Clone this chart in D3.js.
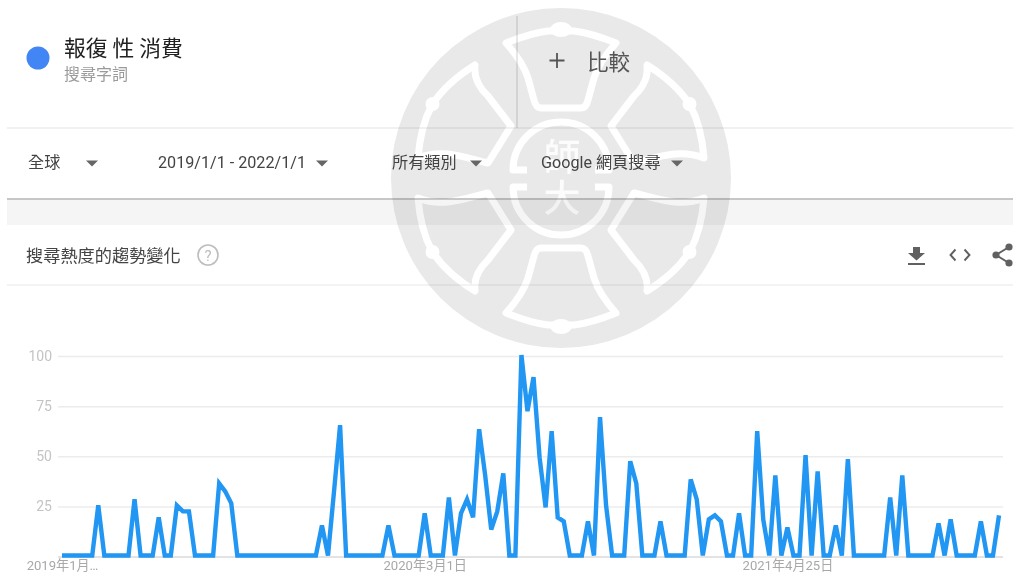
<!DOCTYPE html>
<html><head><meta charset="utf-8">
<script src="https://cdn.jsdelivr.net/npm/d3@7/dist/d3.min.js"></script>
<style>
html,body{margin:0;padding:0;background:#fff;overflow:hidden}
svg{display:block;filter:blur(0.5px)}
text{font-family:Roboto,"Noto Sans CJK TC",sans-serif}
</style></head><body>
<svg id="c" width="1013" height="574"></svg>
<script>
const startDate = "2019-01-06";
const weeklyValues = [
0,0,0,0,0,0,25,0,0,0,
0,0,28,0,0,0,19,0,0,25,
22,22,0,0,0,0,36,32,26,0,
0,0,0,0,0,0,0,0,0,0,
0,0,0,15,0,32,65,0,0,0,
0,0,0,0,15,0,0,0,0,0,
21,0,0,0,29,0,21,28,19,63,
40,13,22,41,0,0,100,72,89,49,
24,62,19,17,0,0,0,17,0,69,
25,0,0,0,47,36,0,0,0,17,
0,0,0,0,38,28,0,18,20,17,
0,0,21,0,0,62,18,0,40,0,
14,0,0,50,0,42,0,0,15,0,
48,0,0,0,0,0,0,29,0,40,
0,0,0,0,0,16,0,18,0,0,
0,0,17,0,0,20];
const yTicks = [25,50,75,100];
const xTickDates = ["2019-01-06","2020-03-01","2021-04-25"];
const xTickLabels = ["2019年1月…","2020年3月1日","2021年4月25日"];
const termLabel = "報復 性 消費";
const termType = "搜尋字詞";
const filterLabels = ["全球","2019/1/1 - 2022/1/1","所有類別","Google 網頁搜尋"];

const svg = d3.select("#c");
const CJK = '"Noto Sans CJK TC",Roboto,sans-serif';
const parse = d3.utcParse("%Y-%m-%d");
const t0 = parse(startDate);
const dates = weeklyValues.map((_,i)=>d3.utcWeek.offset(t0,i));
const x = d3.scaleUtc().domain([dates[0],dates[dates.length-1]]).range([62,999]);
const y = d3.scaleLinear().domain([0,100]).range([556.5,356]);

// page furniture
const hline=(yy,col,w)=>svg.append("line").attr("x1",7).attr("x2",1013).attr("y1",yy).attr("y2",yy).attr("stroke",col).attr("stroke-width",w);
svg.append("rect").attr("x",7).attr("y",200).attr("width",1006).attr("height",25).attr("fill","#f5f5f5");
hline(128,"#e3e3e3",1.2);
hline(199,"#b4b4b4",1.6);
hline(285,"#e8e8e8",1.2);
svg.append("line").attr("x1",517).attr("x2",517).attr("y1",16).attr("y2",128).attr("stroke","#cfcfcf").attr("stroke-width",1);

// watermark seal
const cx=561, cy=178;
const wm=svg.append("g").style("mix-blend-mode","multiply");
wm.append("circle").attr("cx",cx).attr("cy",cy).attr("r",170).attr("fill","#e9e9e9");
const ws=wm.append("g").attr("transform",`translate(${cx},${cy})`)
  .attr("fill","none").attr("stroke","#fff").attr("stroke-width",7).attr("stroke-linejoin","round").attr("stroke-linecap","butt");
const bell="M-55,-135 Q-30,-145 -13,-147 L13,-147 Q30,-145 55,-135 Q38,-116 33,-100 L27,-78 Q25,-70 20,-70 L-20,-70 Q-25,-70 -27,-78 L-33,-100 Q-38,-116 -55,-135 Z";
const petal="M-86,-113 Q-88,-96 -73,-82 L-50,-52 L-73,-15 C-95,-20 -118,-30 -143,-20 C-141,-45 -135,-62 -129,-73 Q-115,-95 -86,-113 Z";
[[1,1],[1,-1]].forEach(([a,b])=>{
  const g=ws.append("g").attr("transform",`scale(${a},${b})`);
  g.append("path").attr("d",bell);
  g.append("ellipse").attr("cx",0).attr("cy",-148.5).attr("rx",11).attr("ry",7.5).attr("fill","#fff").attr("stroke","none");
});
[[1,1],[-1,1],[1,-1],[-1,-1]].forEach(([a,b])=>{
  const g=ws.append("g").attr("transform",`scale(${a},${b})`);
  g.append("path").attr("d",petal);
  g.append("circle").attr("cx",-128.5).attr("cy",-74).attr("r",7).attr("fill","#fff").attr("stroke","none");
});
ws.append("path").attr("d","M-34,-8H-48A48,48 0 0 1 48,-8H34");
ws.append("path").attr("d","M-34,9H-48A48,48 0 0 0 48,9H34");
wm.append("text").attr("x",cx+1).attr("y",171).attr("text-anchor","middle").attr("fill","#fff").attr("fill-opacity",0.85).style("font-family",CJK).style("font-weight",500).style("font-size","37px").text("師");
wm.append("text").attr("x",cx+1).attr("y",212).attr("text-anchor","middle").attr("fill","#fff").attr("fill-opacity",0.85).style("font-family",CJK).style("font-weight",500).style("font-size","37px").text("大");

// header
svg.append("circle").attr("cx",38).attr("cy",58).attr("r",11.5).attr("fill","#4285f4");
const T=(s,xx,yy,size,col,fam)=>svg.append("text").attr("x",xx).attr("y",yy).attr("dominant-baseline","central").attr("fill",col).style("font-size",size+"px").style("font-family",fam||CJK).text(s);
T(termLabel,64,46,21.8,"#222");
T(termType,64,72.5,16,"#9a9a9a");
T("比較",587,60,21.5,"#555");
svg.append("path").attr("d","M557,53V68M549.5,60.5H564.5").attr("stroke","#555").attr("stroke-width",1.8);
const fx=[28,158,392,541], tri=[92,322,476,677];
filterLabels.forEach((s,i)=>{
  T(s,fx[i],162.5,16.15,"#444",i==1?'Roboto,sans-serif':'Roboto,"Noto Sans CJK TC",sans-serif');
  svg.append("path").attr("d",`M${tri[i]-6},160.5h12l-6,6z`).attr("fill","#666");
});
T("搜尋熱度的趨勢變化",26,254.5,17.2,"#444");
svg.append("circle").attr("cx",208).attr("cy",255).attr("r",10).attr("fill","none").attr("stroke","#bdbdbd").attr("stroke-width",1.6);
svg.append("text").attr("x",208).attr("y",255.5).attr("dominant-baseline","central").attr("text-anchor","middle").attr("fill","#bdbdbd").style("font-size","15px").text("?");

// action icons
svg.append("path").attr("d","M913,247h7v6h5l-8.5,7.5l-8.5,-7.5h5zM908,263h17v2H908z").attr("fill","#616161");
svg.append("path").attr("d","M955.5,249.5l-5,5.5l5,5.5M964.5,249.5l5,5.5l-5,5.5").attr("fill","none").attr("stroke","#616161").attr("stroke-width",1.9);
svg.append("path").attr("d","M1009,247L996,255L1009,263").attr("fill","none").attr("stroke","#616161").attr("stroke-width",2);
[[1009,247],[996,255],[1009,263]].forEach(d=>svg.append("circle").attr("cx",d[0]).attr("cy",d[1]).attr("r",3.6).attr("fill","#616161"));

// chart
const gy=svg.append("g").attr("transform","translate(58,0)")
  .call(d3.axisLeft(y).tickValues(yTicks).tickSize(-945).tickPadding(6));
gy.select(".domain").remove();
gy.selectAll(".tick line").attr("stroke","#ececec").attr("stroke-width",1.5);
gy.selectAll("text").attr("fill","#c4c4c4").style("font-size","14px").style("font-family","Roboto,sans-serif");

const gx=svg.append("g").attr("transform",`translate(0,${y(0)})`)
  .call(d3.axisBottom(x).tickValues(xTickDates.map(parse)).tickSize(0).tickPadding(3)
    .tickFormat((d,i)=>xTickLabels[i]));
gx.select(".domain").remove();
gx.selectAll("text").attr("fill","#a8a8a8").attr("dy","0.8em").style("font-size","13.1px").style("font-family",'Roboto,"Noto Sans CJK TC",sans-serif');
svg.append("line").attr("x1",58).attr("x2",1003).attr("y1",y(0)+.5).attr("y2",y(0)+.5).attr("stroke","#c8c8c8").attr("stroke-width",1.2);

svg.append("path").datum(weeklyValues)
  .attr("fill","none").attr("stroke","#2196f3").attr("stroke-width",4.4).attr("stroke-linejoin","miter")
  .attr("d",d3.line().x((d,i)=>x(dates[i])).y(d=>y(d)-1));
</script></body></html>
